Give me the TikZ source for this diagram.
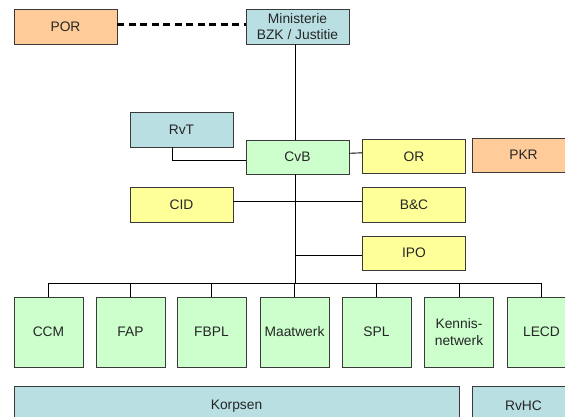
\documentclass[tikz,border=0pt]{standalone}
\usepackage{fontspec}
\setmainfont{Liberation Sans}
\definecolor{cpeach}{HTML}{FFCC99}
\definecolor{cblue}{HTML}{B9DFE3}
\definecolor{cgreen}{HTML}{CCFFCC}
\definecolor{cyellow}{HTML}{FFFF99}
\definecolor{cedge}{HTML}{3A3A3A}
\begin{document}
\begin{tikzpicture}[x=1pt,y=1pt,
  box/.style={draw=cedge, line width=0.9pt, inner sep=0pt, align=center,
    font=\fontsize{13.8}{16.8}\selectfont, text=black!85},
  wide/.style={box, minimum width=103pt, minimum height=35pt},
  unit/.style={box, fill=cgreen, minimum width=69pt, minimum height=70pt},
  conn/.style={line width=0.9pt, black}]
\useasboundingbox (0,0) rectangle (565,-417);
\clip (0,0) rectangle (565,-417);
\fill[white] (0,0) rectangle (565,-417);
% top
\node[wide, fill=cpeach] (por) at (65.5,-26.5) {POR};
\node[wide, fill=cblue] (min) at (297.5,-26.5) {Ministerie\\BZK / Justitie};
\node[wide, fill=cblue] (rvt) at (181.5,-129.5) {RvT};
\node[wide, fill=cgreen, minimum height=34pt] (cvb) at (297.5,-157) {CvB};
\node[wide, fill=cyellow, minimum height=34pt] (or) at (414,-156.5) {OR};
\node[wide, fill=cpeach, minimum height=34pt] (pkr) at (523.5,-155) {PKR};
\node[wide, fill=cyellow] (cid) at (181.5,-204.5) {CID};
\node[wide, fill=cyellow] (bc) at (414,-204.5) {B\&C};
\node[wide, fill=cyellow, minimum height=34pt] (ipo) at (414,-253) {IPO};
% units
\node[unit] (ccm) at (48.5,-332) {CCM};
\node[unit] (fap) at (130.5,-332) {FAP};
\node[unit] (fbpl) at (211.5,-332) {FBPL};
\node[unit] (maat) at (294.5,-332) {Maatwerk};
\node[unit] (spl) at (376.5,-332) {SPL};
\node[unit] (ken) at (459,-332) {Kennis-\\netwerk};
\node[unit] (lecd) at (541.5,-332) {LECD};
% bottom
\node[box, fill=cblue, minimum width=445pt, minimum height=40pt] (korps) at (236.5,-406) {Korpsen};
\node[box, fill=cblue, minimum width=103pt, minimum height=40pt] (rvhc) at (523.5,-406) {RvHC};
% connectors
\coordinate (sp) at (295,-283.5);
\draw[line width=2.6pt, dash pattern=on 7pt off 4.5pt] ([yshift=2pt]por.east) -- ([yshift=2pt]min.west);
\draw[conn] (min.south -| sp) -- (cvb.north -| sp);
\draw[conn] (cvb.south -| sp) -- (sp);
\draw[conn] ([xshift=-9.5pt]rvt.south) |- ([yshift=-3pt]cvb.west);
\draw[conn] ([yshift=3.7pt]cvb.east) -- ([yshift=3.7pt]or.west);
\draw[conn] ([yshift=3.5pt]cid.east) -- ([yshift=3.5pt]bc.west);
\draw[conn] ([yshift=-2.7pt]ipo.west) -- ([yshift=-2.7pt]ipo.west -| sp);
\draw[conn] (ccm.north) |- (sp) -| (lecd.north);
\foreach \n in {fap,fbpl,maat,spl,ken}
  \draw[conn] (\n.north) -- (\n.north |- sp);
\end{tikzpicture}
\end{document}
